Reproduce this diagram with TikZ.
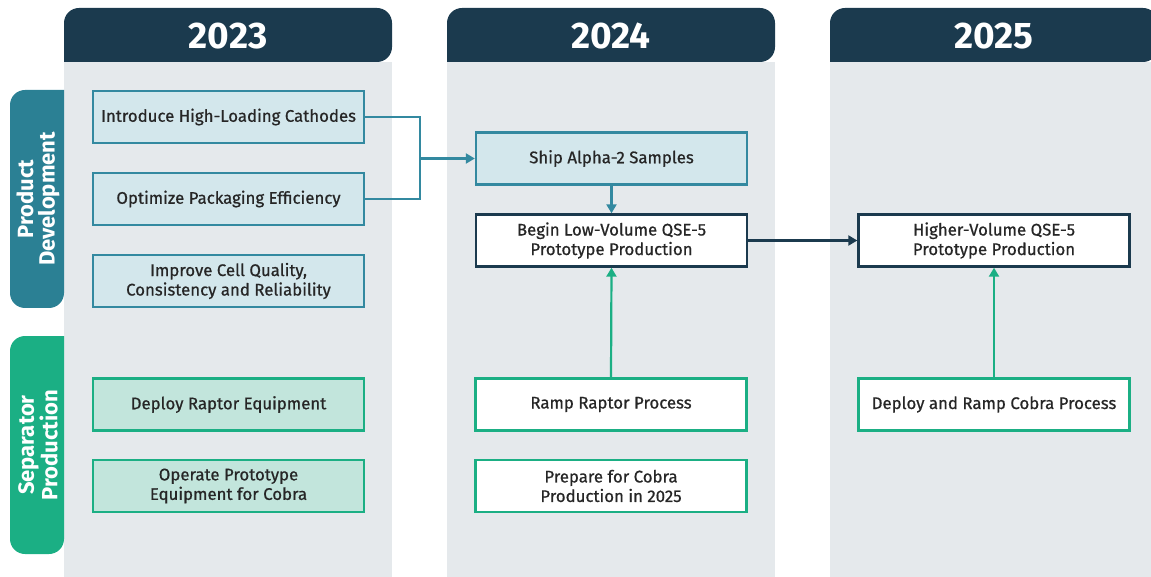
\documentclass[tikz,border=0pt]{standalone}
\usepackage{fontspec}
\setmainfont{Fira Sans}
\newfontfamily\medfont{Fira Sans}[FakeBold=0.7]
\usetikzlibrary{arrows.meta}
\definecolor{navy}{HTML}{1B3A4E}
\definecolor{colbg}{HTML}{E5E9EC}
\definecolor{tealc}{HTML}{2B8094}
\definecolor{tealb}{HTML}{3389A0}
\definecolor{tealfill}{HTML}{D3E7EC}
\definecolor{greenc}{HTML}{1BAF84}
\definecolor{greenfill}{HTML}{C2E5DC}
\definecolor{txt}{HTML}{262626}
\tikzset{
  box/.style={draw, line width=2.4pt, minimum width=271pt, minimum height=52pt, inner sep=0pt,
    align=center, text=txt, font=\medfont\fontsize{16.8}{19.5}\selectfont},
  bluebox/.style={box, draw=tealb, fill=tealfill},
  greenbox/.style={box, draw=greenc, fill=greenfill},
  navybox/.style={box, draw=navy, fill=white},
  gwbox/.style={box, draw=greenc, fill=white},
  conn/.style={line width=2.2pt, -{Triangle[length=9pt,width=10pt]}},
  year/.style={text=white, font=\fontsize{37}{37}\selectfont\bfseries},
  tablabel/.style={text=white, rotate=90, align=center, font=\fontsize{22}{21.5}\selectfont\bfseries},
}
\begin{document}
\begin{tikzpicture}[x=1pt,y=-1pt]
\useasboundingbox (0,0) rectangle (1151,577);
% columns
\foreach \xl in {64,447,830}{
  \fill[colbg] (\xl,62) rectangle (\xl+328,577);
  \fill[navy,rounded corners=15pt] (\xl,62) -- (\xl,8) -- (\xl+328,8) -- (\xl+328,62) [sharp corners] -- cycle;
}
\node[year] (y1) at (228,36) {2023};
\node[year] (y2) at (611,36) {2024};
\node[year] (y3) at (994,36) {2025};
% side tabs
\fill[tealc,rounded corners=15pt] (64,90) -- (10,90) -- (10,308) -- (64,308) [sharp corners] -- cycle;
\fill[greenc,rounded corners=15pt] (64,336) -- (10,336) -- (10,554) -- (64,554) [sharp corners] -- cycle;
\node[tablabel] (pd) at (38,199) {Product\\Development};
\node[tablabel] (sp) at (38,445) {Separator\\Production};
% 2023 boxes
\node[bluebox] (a1) at (228.5,117) {Introduce High-Loading Cathodes};
\node[bluebox] (a2) at (228.5,199) {Optimize Packaging Efficiency};
\node[bluebox] (a3) at (228.5,281) {Improve Cell Quality,\\Consistency and Reliability};
\node[greenbox] (a4) at (228.5,404.5) {Deploy Raptor Equipment};
\node[greenbox] (a5) at (228.5,486) {Operate Prototype\\Equipment for Cobra};
% 2024 boxes
\node[bluebox] (b1) at (611.5,158.5) {Ship Alpha-2 Samples};
\node[navybox] (b2) at (611.5,240.5) {Begin Low-Volume QSE-5\\Prototype Production};
\node[gwbox] (b3) at (611,404.5) {Ramp Raptor Process};
\node[gwbox] (b4) at (611,486) {Prepare for Cobra\\Production in 2025};
% 2025 boxes
\node[navybox] (c1) at (994,240.5) {Higher-Volume QSE-5\\Prototype Production};
\node[gwbox] (c2) at (994,404.5) {Deploy and Ramp Cobra Process};
% connectors
\coordinate (j) at (420,158.5);
\draw[tealb,line width=2.2pt] (a1.east) -| (j) |- (a2.east);
\draw[conn,tealb] (j) -- (b1.west);
\draw[conn,tealb] (b1.south) -- (b2.north);
\draw[conn,navy] (b2.east) -- (c1.west);
\draw[conn,greenc] (b3.north) -- (b2.south);
\draw[conn,greenc] (c2.north) -- (c1.south);
\end{tikzpicture}
\end{document}
